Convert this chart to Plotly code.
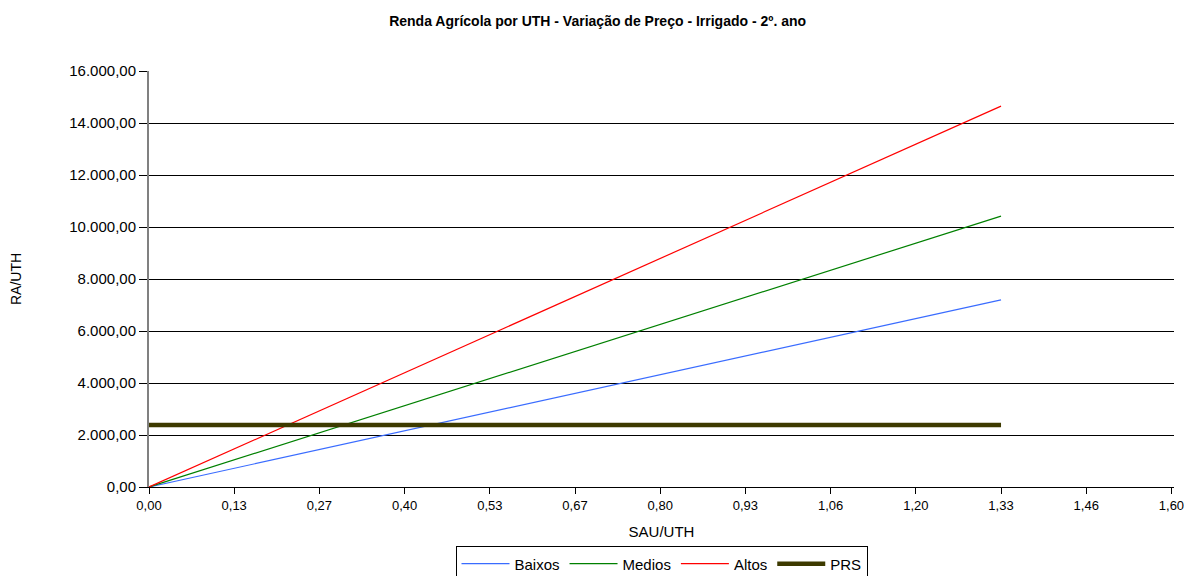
import plotly.graph_objects as go

# SAU/UTH points and RA/UTH values
SAU_UTH = [0.0, 0.133, 0.266, 0.399, 0.532, 0.665, 0.798, 0.931, 1.064, 1.197, 1.33]
BAIXOS = [0, 720, 1440, 2160, 2880, 3600, 4320, 5040, 5760, 6480, 7200]
MEDIOS = [0, 1042, 2084, 3126, 4168, 5210, 6252, 7294, 8336, 9378, 10420]
ALTOS = [0, 1465, 2930, 4395, 5860, 7325, 8790, 10255, 11720, 13185, 14650]
PRS = [2385, 2385, 2385, 2385, 2385, 2385, 2385, 2385, 2385, 2385, 2385]

X_TICKVALS = [0.0, 0.133, 0.266, 0.399, 0.532, 0.665, 0.798, 0.931, 1.064, 1.197, 1.33, 1.463, 1.596]
X_TICKTEXT = ["0,00", "0,13", "0,27", "0,40", "0,53", "0,67", "0,80", "0,93",
              "1,06", "1,20", "1,33", "1,46", "1,60"]

FONT = "Liberation Sans, Arial, sans-serif"

SERIES = [
    ("Baixos", BAIXOS, "#3a6cff", 1.2),
    ("Medios", MEDIOS, "#008000", 1.2),
    ("Altos", ALTOS, "#ff0000", 1.2),
    ("PRS", PRS, "#3d3a00", 4.5),
]

fig = go.Figure()
for name, vals, color, width in SERIES:
    fig.add_trace(go.Scatter(
        x=SAU_UTH, y=vals, mode="lines", name=name,
        line=dict(color=color, width=width),
    ))

# the page body has an 8px margin, so the figure is sized 8px smaller
fig.update_layout(
    title=dict(
        text="<b>Renda Agrícola por UTH - Variação de Preço - Irrigado - 2º. ano</b>",
        x=0.498, xanchor="center", y=0.977, yanchor="middle",
        font=dict(family=FONT, size=14, color="#000000"),
    ),
    paper_bgcolor="#ffffff",
    plot_bgcolor="#ffffff",
    separators=",.",
    font=dict(family=FONT, size=13, color="#000000"),
    xaxis=dict(
        range=[0, 1.6], tickvals=X_TICKVALS, ticktext=X_TICKTEXT,
        showgrid=False, zeroline=False, automargin=False,
        showline=True, linecolor="#000000", linewidth=1,
        ticks="outside", ticklen=6, tickcolor="#000000",
        title=dict(text="SAU/UTH", font=dict(size=15), standoff=14),
        tickfont=dict(size=13),
    ),
    yaxis=dict(
        range=[0, 16000], dtick=2000, tickformat=",.2f",
        showgrid=True, gridcolor="#000000", gridwidth=1,
        zeroline=False, automargin=False,
        showline=True, linecolor="#808080", linewidth=2,
        ticks="outside", ticklen=8, tickcolor="#000000",
        title=dict(text="RA/UTH", font=dict(size=14), standoff=47),
        tickfont=dict(size=15),
    ),
    legend=dict(
        orientation="h",
        x=0.5, xanchor="center", xref="paper",
        y=0.052, yanchor="top", yref="container",
        bordercolor="#000000", borderwidth=1,
        bgcolor="#ffffff",
        font=dict(size=15),
        itemwidth=48,
        tracegroupgap=0,
    ),
    showlegend=True,
    margin=dict(l=141, r=18, t=63, b=89),
    width=1184,
    height=568,
)

fig.write_html("out.html")
